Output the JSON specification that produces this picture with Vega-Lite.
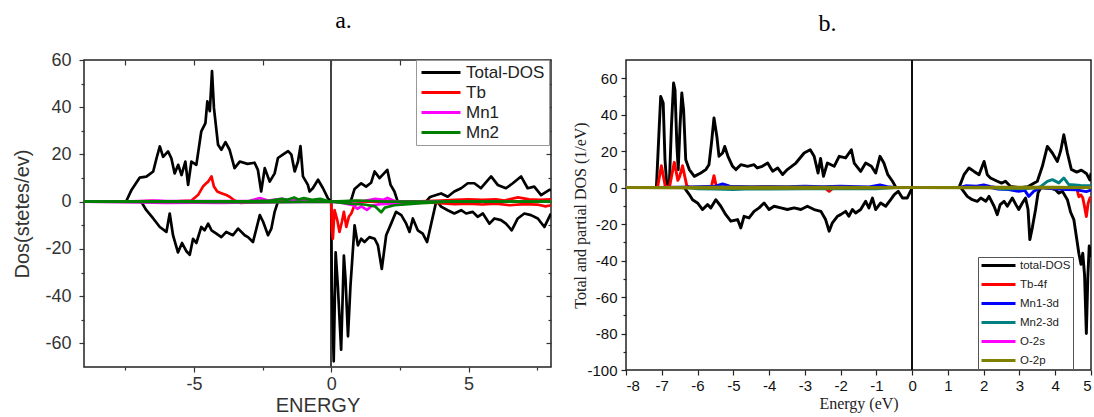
{
"$schema":"https://vega.github.io/schema/vega-lite/v6.json",
"background":"white",
"padding":{"left":12,"top":8,"right":0,"bottom":0},
"spacing":75,
"bounds":"flush",
"resolve":{"scale":{"color":"independent"},"legend":{"color":"independent"}},
"config":{"view":{"stroke":"#222","strokeWidth":1.5},"axis":{"grid":false,"domain":false,"labelOverlap":false}},
"datasets":{
"a":[
{"s":"Total-DOS","p":"u","e":-9,"d":0},{"s":"Total-DOS","p":"u","e":-7.5,"d":0},{"s":"Total-DOS","p":"u","e":-7.45,"d":0.5},{"s":"Total-DOS","p":"u","e":-7.27,"d":5},{"s":"Total-DOS","p":"u","e":-6.97,"d":10.2},{"s":"Total-DOS","p":"u","e":-6.73,"d":10.6},{"s":"Total-DOS","p":"u","e":-6.48,"d":12.8},{"s":"Total-DOS","p":"u","e":-6.36,"d":18.4},{"s":"Total-DOS","p":"u","e":-6.24,"d":23.4},{"s":"Total-DOS","p":"u","e":-6.12,"d":19},{"s":"Total-DOS","p":"u","e":-5.94,"d":21.3},{"s":"Total-DOS","p":"u","e":-5.82,"d":18.4},{"s":"Total-DOS","p":"u","e":-5.7,"d":12},{"s":"Total-DOS","p":"u","e":-5.57,"d":15.6},{"s":"Total-DOS","p":"u","e":-5.45,"d":11.3},{"s":"Total-DOS","p":"u","e":-5.31,"d":17},{"s":"Total-DOS","p":"u","e":-5.21,"d":7.1},{"s":"Total-DOS","p":"u","e":-5.09,"d":17},{"s":"Total-DOS","p":"u","e":-4.91,"d":15.6},{"s":"Total-DOS","p":"u","e":-4.73,"d":29.8},{"s":"Total-DOS","p":"u","e":-4.58,"d":33.3},{"s":"Total-DOS","p":"u","e":-4.51,"d":42.5},{"s":"Total-DOS","p":"u","e":-4.42,"d":38.3},{"s":"Total-DOS","p":"u","e":-4.34,"d":55.3},{"s":"Total-DOS","p":"u","e":-4.27,"d":39.7},{"s":"Total-DOS","p":"u","e":-4.12,"d":24.1},{"s":"Total-DOS","p":"u","e":-4,"d":22},{"s":"Total-DOS","p":"u","e":-3.85,"d":25.2},{"s":"Total-DOS","p":"u","e":-3.7,"d":22},{"s":"Total-DOS","p":"u","e":-3.52,"d":14.2},{"s":"Total-DOS","p":"u","e":-3.33,"d":17},{"s":"Total-DOS","p":"u","e":-3.05,"d":16},{"s":"Total-DOS","p":"u","e":-2.79,"d":16.5},{"s":"Total-DOS","p":"u","e":-2.67,"d":13.5},{"s":"Total-DOS","p":"u","e":-2.55,"d":4.3},{"s":"Total-DOS","p":"u","e":-2.42,"d":14.2},{"s":"Total-DOS","p":"u","e":-2.24,"d":8.5},{"s":"Total-DOS","p":"u","e":-2.06,"d":12},{"s":"Total-DOS","p":"u","e":-1.94,"d":18.5},{"s":"Total-DOS","p":"u","e":-1.75,"d":20},{"s":"Total-DOS","p":"u","e":-1.57,"d":21.4},{"s":"Total-DOS","p":"u","e":-1.45,"d":19.9},{"s":"Total-DOS","p":"u","e":-1.33,"d":12.8},{"s":"Total-DOS","p":"u","e":-1.21,"d":17},{"s":"Total-DOS","p":"u","e":-1.12,"d":23.5},{"s":"Total-DOS","p":"u","e":-1.03,"d":10.7},{"s":"Total-DOS","p":"u","e":-0.85,"d":7.1},{"s":"Total-DOS","p":"u","e":-0.79,"d":4.3},{"s":"Total-DOS","p":"u","e":-0.67,"d":5.7},{"s":"Total-DOS","p":"u","e":-0.48,"d":9.3},{"s":"Total-DOS","p":"u","e":-0.3,"d":5.7},{"s":"Total-DOS","p":"u","e":-0.12,"d":1.4},{"s":"Total-DOS","p":"u","e":0,"d":0},{"s":"Total-DOS","p":"u","e":0.7,"d":0},{"s":"Total-DOS","p":"u","e":0.76,"d":2},{"s":"Total-DOS","p":"u","e":0.85,"d":5.4},{"s":"Total-DOS","p":"u","e":1.09,"d":7.8},{"s":"Total-DOS","p":"u","e":1.27,"d":6.4},{"s":"Total-DOS","p":"u","e":1.45,"d":8},{"s":"Total-DOS","p":"u","e":1.58,"d":12.8},{"s":"Total-DOS","p":"u","e":1.76,"d":10},{"s":"Total-DOS","p":"u","e":2.04,"d":13.5},{"s":"Total-DOS","p":"u","e":2.16,"d":7.1},{"s":"Total-DOS","p":"u","e":2.3,"d":4.3},{"s":"Total-DOS","p":"u","e":2.42,"d":0},{"s":"Total-DOS","p":"u","e":3.45,"d":0},{"s":"Total-DOS","p":"u","e":3.6,"d":2},{"s":"Total-DOS","p":"u","e":3.82,"d":2.8},{"s":"Total-DOS","p":"u","e":4,"d":3.5},{"s":"Total-DOS","p":"u","e":4.24,"d":2.1},{"s":"Total-DOS","p":"u","e":4.48,"d":4.3},{"s":"Total-DOS","p":"u","e":4.73,"d":5.7},{"s":"Total-DOS","p":"u","e":4.97,"d":7.8},{"s":"Total-DOS","p":"u","e":5.21,"d":7.8},{"s":"Total-DOS","p":"u","e":5.45,"d":5.7},{"s":"Total-DOS","p":"u","e":5.82,"d":10.7},{"s":"Total-DOS","p":"u","e":6.06,"d":7.1},{"s":"Total-DOS","p":"u","e":6.36,"d":5.7},{"s":"Total-DOS","p":"u","e":6.61,"d":7.8},{"s":"Total-DOS","p":"u","e":6.91,"d":10.7},{"s":"Total-DOS","p":"u","e":7.15,"d":5.7},{"s":"Total-DOS","p":"u","e":7.39,"d":6.4},{"s":"Total-DOS","p":"u","e":7.64,"d":2.8},{"s":"Total-DOS","p":"u","e":7.94,"d":5},{"s":"Total-DOS","p":"u","e":8,"d":5},
{"s":"Total-DOS","p":"d","e":-9,"d":0},{"s":"Total-DOS","p":"d","e":-6.95,"d":0},{"s":"Total-DOS","p":"d","e":-6.88,"d":-0.7},{"s":"Total-DOS","p":"d","e":-6.73,"d":-3.6},{"s":"Total-DOS","p":"d","e":-6.48,"d":-7.1},{"s":"Total-DOS","p":"d","e":-6.24,"d":-10.7},{"s":"Total-DOS","p":"d","e":-6,"d":-12.8},{"s":"Total-DOS","p":"d","e":-5.88,"d":-5},{"s":"Total-DOS","p":"d","e":-5.76,"d":-14.2},{"s":"Total-DOS","p":"d","e":-5.58,"d":-21.5},{"s":"Total-DOS","p":"d","e":-5.43,"d":-17.5},{"s":"Total-DOS","p":"d","e":-5.27,"d":-21},{"s":"Total-DOS","p":"d","e":-5.15,"d":-22.5},{"s":"Total-DOS","p":"d","e":-5.03,"d":-15.7},{"s":"Total-DOS","p":"d","e":-4.91,"d":-17.5},{"s":"Total-DOS","p":"d","e":-4.73,"d":-10.7},{"s":"Total-DOS","p":"d","e":-4.61,"d":-12.1},{"s":"Total-DOS","p":"d","e":-4.48,"d":-9.3},{"s":"Total-DOS","p":"d","e":-4.36,"d":-12.1},{"s":"Total-DOS","p":"d","e":-4.18,"d":-13.5},{"s":"Total-DOS","p":"d","e":-4,"d":-15},{"s":"Total-DOS","p":"d","e":-3.82,"d":-12.8},{"s":"Total-DOS","p":"d","e":-3.58,"d":-14.2},{"s":"Total-DOS","p":"d","e":-3.39,"d":-11.4},{"s":"Total-DOS","p":"d","e":-3.15,"d":-14.2},{"s":"Total-DOS","p":"d","e":-3.03,"d":-15},{"s":"Total-DOS","p":"d","e":-2.85,"d":-17.1},{"s":"Total-DOS","p":"d","e":-2.6,"d":-5.7},{"s":"Total-DOS","p":"d","e":-2.48,"d":-8.5},{"s":"Total-DOS","p":"d","e":-2.3,"d":-14.2},{"s":"Total-DOS","p":"d","e":-2.18,"d":-11.4},{"s":"Total-DOS","p":"d","e":-2.06,"d":-4.3},{"s":"Total-DOS","p":"d","e":-1.94,"d":0},{"s":"Total-DOS","p":"d","e":0,"d":0},{"s":"Total-DOS","p":"d","e":0.02,"d":-35.6},{"s":"Total-DOS","p":"d","e":0.09,"d":-67.6},{"s":"Total-DOS","p":"d","e":0.16,"d":-21.4},{"s":"Total-DOS","p":"d","e":0.24,"d":-35.6},{"s":"Total-DOS","p":"d","e":0.36,"d":-62.7},{"s":"Total-DOS","p":"d","e":0.46,"d":-22.8},{"s":"Total-DOS","p":"d","e":0.52,"d":-32.8},{"s":"Total-DOS","p":"d","e":0.61,"d":-57},{"s":"Total-DOS","p":"d","e":0.7,"d":-35.6},{"s":"Total-DOS","p":"d","e":0.85,"d":-10},{"s":"Total-DOS","p":"d","e":0.97,"d":-18.5},{"s":"Total-DOS","p":"d","e":1.09,"d":-15.7},{"s":"Total-DOS","p":"d","e":1.21,"d":-17.1},{"s":"Total-DOS","p":"d","e":1.39,"d":-15},{"s":"Total-DOS","p":"d","e":1.58,"d":-15.7},{"s":"Total-DOS","p":"d","e":1.7,"d":-18.5},{"s":"Total-DOS","p":"d","e":1.84,"d":-28.5},{"s":"Total-DOS","p":"d","e":2,"d":-14.2},{"s":"Total-DOS","p":"d","e":2.18,"d":-9.3},{"s":"Total-DOS","p":"d","e":2.36,"d":-4.3},{"s":"Total-DOS","p":"d","e":2.55,"d":-5.7},{"s":"Total-DOS","p":"d","e":2.73,"d":-9.3},{"s":"Total-DOS","p":"d","e":2.85,"d":-12.8},{"s":"Total-DOS","p":"d","e":2.97,"d":-7.1},{"s":"Total-DOS","p":"d","e":3.15,"d":-12.1},{"s":"Total-DOS","p":"d","e":3.33,"d":-13.5},{"s":"Total-DOS","p":"d","e":3.49,"d":-17.1},{"s":"Total-DOS","p":"d","e":3.64,"d":-9.3},{"s":"Total-DOS","p":"d","e":3.82,"d":0},{"s":"Total-DOS","p":"d","e":3.9,"d":-0.5},{"s":"Total-DOS","p":"d","e":4,"d":-2.1},{"s":"Total-DOS","p":"d","e":4.24,"d":-3.6},{"s":"Total-DOS","p":"d","e":4.48,"d":-5},{"s":"Total-DOS","p":"d","e":4.73,"d":-3.6},{"s":"Total-DOS","p":"d","e":4.91,"d":-5},{"s":"Total-DOS","p":"d","e":5.15,"d":-4.3},{"s":"Total-DOS","p":"d","e":5.33,"d":-6.4},{"s":"Total-DOS","p":"d","e":5.52,"d":-5},{"s":"Total-DOS","p":"d","e":5.76,"d":-9.3},{"s":"Total-DOS","p":"d","e":5.94,"d":-7.1},{"s":"Total-DOS","p":"d","e":6.18,"d":-7.8},{"s":"Total-DOS","p":"d","e":6.36,"d":-9.3},{"s":"Total-DOS","p":"d","e":6.57,"d":-12.1},{"s":"Total-DOS","p":"d","e":6.79,"d":-7.1},{"s":"Total-DOS","p":"d","e":7.03,"d":-5},{"s":"Total-DOS","p":"d","e":7.27,"d":-5.7},{"s":"Total-DOS","p":"d","e":7.52,"d":-7.1},{"s":"Total-DOS","p":"d","e":7.76,"d":-10.7},{"s":"Total-DOS","p":"d","e":7.97,"d":-5.7},{"s":"Total-DOS","p":"d","e":8,"d":-5},
{"s":"Tb","p":"u","e":-9,"d":0},{"s":"Tb","p":"u","e":-7.2,"d":0},{"s":"Tb","p":"u","e":-6.5,"d":0.4},{"s":"Tb","p":"u","e":-6,"d":-0.3},{"s":"Tb","p":"u","e":-5.5,"d":0.3},{"s":"Tb","p":"u","e":-5.09,"d":0.5},{"s":"Tb","p":"u","e":-4.85,"d":2.8},{"s":"Tb","p":"u","e":-4.67,"d":6.4},{"s":"Tb","p":"u","e":-4.55,"d":7.8},{"s":"Tb","p":"u","e":-4.48,"d":8.5},{"s":"Tb","p":"u","e":-4.36,"d":10.7},{"s":"Tb","p":"u","e":-4.27,"d":6.4},{"s":"Tb","p":"u","e":-4.15,"d":4.3},{"s":"Tb","p":"u","e":-4,"d":3.6},{"s":"Tb","p":"u","e":-3.82,"d":2.8},{"s":"Tb","p":"u","e":-3.7,"d":2.1},{"s":"Tb","p":"u","e":-3.52,"d":0.5},{"s":"Tb","p":"u","e":-3.3,"d":-0.5},{"s":"Tb","p":"u","e":-3,"d":-0.3},{"s":"Tb","p":"u","e":-2,"d":0},{"s":"Tb","p":"u","e":0,"d":0},{"s":"Tb","p":"u","e":1,"d":0.3},{"s":"Tb","p":"u","e":2,"d":0.2},{"s":"Tb","p":"u","e":3,"d":0},{"s":"Tb","p":"u","e":4,"d":0.5},{"s":"Tb","p":"u","e":4.5,"d":0.8},{"s":"Tb","p":"u","e":5,"d":1},{"s":"Tb","p":"u","e":5.5,"d":0.8},{"s":"Tb","p":"u","e":6,"d":1},{"s":"Tb","p":"u","e":6.3,"d":0.5},{"s":"Tb","p":"u","e":6.8,"d":1.8},{"s":"Tb","p":"u","e":7.2,"d":1},{"s":"Tb","p":"u","e":7.6,"d":0.8},{"s":"Tb","p":"u","e":8,"d":1},
{"s":"Tb","p":"d","e":-9,"d":0},{"s":"Tb","p":"d","e":0,"d":0},{"s":"Tb","p":"d","e":0.02,"d":-11.4},{"s":"Tb","p":"d","e":0.06,"d":-15.7},{"s":"Tb","p":"d","e":0.12,"d":-3.6},{"s":"Tb","p":"d","e":0.22,"d":-7.8},{"s":"Tb","p":"d","e":0.3,"d":-12.8},{"s":"Tb","p":"d","e":0.39,"d":-8.5},{"s":"Tb","p":"d","e":0.46,"d":-4.3},{"s":"Tb","p":"d","e":0.55,"d":-10.7},{"s":"Tb","p":"d","e":0.64,"d":-6.4},{"s":"Tb","p":"d","e":0.73,"d":-5},{"s":"Tb","p":"d","e":0.85,"d":-1.4},{"s":"Tb","p":"d","e":1.09,"d":0},{"s":"Tb","p":"d","e":3,"d":0},{"s":"Tb","p":"d","e":3.8,"d":-0.5},{"s":"Tb","p":"d","e":4.5,"d":-1},{"s":"Tb","p":"d","e":5,"d":-0.8},{"s":"Tb","p":"d","e":5.5,"d":-1.2},{"s":"Tb","p":"d","e":6,"d":-0.8},{"s":"Tb","p":"d","e":6.5,"d":-1.5},{"s":"Tb","p":"d","e":7,"d":-1},{"s":"Tb","p":"d","e":7.5,"d":-1.2},{"s":"Tb","p":"d","e":7.8,"d":-2},{"s":"Tb","p":"d","e":8,"d":-1.5},
{"s":"Mn1","p":"u","e":-9,"d":0},{"s":"Mn1","p":"u","e":-7.5,"d":0},{"s":"Mn1","p":"u","e":-7,"d":0.3},{"s":"Mn1","p":"u","e":-6.3,"d":0.5},{"s":"Mn1","p":"u","e":-6,"d":0.2},{"s":"Mn1","p":"u","e":-5,"d":0.3},{"s":"Mn1","p":"u","e":-4,"d":0.2},{"s":"Mn1","p":"u","e":-3,"d":0.3},{"s":"Mn1","p":"u","e":-2.6,"d":1.5},{"s":"Mn1","p":"u","e":-2.3,"d":0.5},{"s":"Mn1","p":"u","e":-1.8,"d":1.2},{"s":"Mn1","p":"u","e":-1.5,"d":0.6},{"s":"Mn1","p":"u","e":-1,"d":0.8},{"s":"Mn1","p":"u","e":0,"d":0},{"s":"Mn1","p":"u","e":1.2,"d":0.3},{"s":"Mn1","p":"u","e":1.6,"d":1.2},{"s":"Mn1","p":"u","e":1.9,"d":0.8},{"s":"Mn1","p":"u","e":2.05,"d":1.6},{"s":"Mn1","p":"u","e":2.3,"d":0.3},{"s":"Mn1","p":"u","e":3,"d":0},{"s":"Mn1","p":"u","e":8,"d":0},
{"s":"Mn1","p":"d","e":-9,"d":0},{"s":"Mn1","p":"d","e":-7,"d":-0.3},{"s":"Mn1","p":"d","e":-6,"d":-0.5},{"s":"Mn1","p":"d","e":-5,"d":-0.4},{"s":"Mn1","p":"d","e":-4,"d":-0.5},{"s":"Mn1","p":"d","e":-3,"d":-0.3},{"s":"Mn1","p":"d","e":-2,"d":-0.2},{"s":"Mn1","p":"d","e":0,"d":0},{"s":"Mn1","p":"d","e":0.4,"d":-0.5},{"s":"Mn1","p":"d","e":0.8,"d":-1.5},{"s":"Mn1","p":"d","e":0.95,"d":-3},{"s":"Mn1","p":"d","e":1.1,"d":-2},{"s":"Mn1","p":"d","e":1.3,"d":-3.5},{"s":"Mn1","p":"d","e":1.5,"d":-1.5},{"s":"Mn1","p":"d","e":1.8,"d":-1},{"s":"Mn1","p":"d","e":2.2,"d":-0.8},{"s":"Mn1","p":"d","e":3,"d":-0.5},{"s":"Mn1","p":"d","e":3.5,"d":-0.3},{"s":"Mn1","p":"d","e":4,"d":0},{"s":"Mn1","p":"d","e":8,"d":0},
{"s":"Mn2","p":"u","e":-9,"d":0},{"s":"Mn2","p":"u","e":-3,"d":0.2},{"s":"Mn2","p":"u","e":-2.2,"d":0.5},{"s":"Mn2","p":"u","e":-1.8,"d":1.2},{"s":"Mn2","p":"u","e":-1.6,"d":0.8},{"s":"Mn2","p":"u","e":-1.35,"d":1.8},{"s":"Mn2","p":"u","e":-1.2,"d":0.9},{"s":"Mn2","p":"u","e":-1,"d":1.5},{"s":"Mn2","p":"u","e":-0.7,"d":0.8},{"s":"Mn2","p":"u","e":-0.4,"d":1.2},{"s":"Mn2","p":"u","e":-0.15,"d":0.4},{"s":"Mn2","p":"u","e":0,"d":0},{"s":"Mn2","p":"u","e":0.9,"d":0.5},{"s":"Mn2","p":"u","e":1.5,"d":0.3},{"s":"Mn2","p":"u","e":2,"d":0},{"s":"Mn2","p":"u","e":8,"d":0},
{"s":"Mn2","p":"d","e":-9,"d":0},{"s":"Mn2","p":"d","e":-2,"d":-0.2},{"s":"Mn2","p":"d","e":0,"d":0},{"s":"Mn2","p":"d","e":0.7,"d":-0.8},{"s":"Mn2","p":"d","e":1.2,"d":-1.2},{"s":"Mn2","p":"d","e":1.6,"d":-2},{"s":"Mn2","p":"d","e":1.82,"d":-4.5},{"s":"Mn2","p":"d","e":1.95,"d":-2.5},{"s":"Mn2","p":"d","e":2.3,"d":-1.5},{"s":"Mn2","p":"d","e":2.8,"d":-1},{"s":"Mn2","p":"d","e":3.3,"d":-0.6},{"s":"Mn2","p":"d","e":3.8,"d":-0.3},{"s":"Mn2","p":"d","e":4.2,"d":0},{"s":"Mn2","p":"d","e":8,"d":0}
],
"b":[
{"s":"total-DOS","p":"u","e":-8,"d":0},{"s":"total-DOS","p":"u","e":-7.15,"d":0},{"s":"total-DOS","p":"u","e":-7.07,"d":33.6},{"s":"total-DOS","p":"u","e":-7.03,"d":50},{"s":"total-DOS","p":"u","e":-6.96,"d":46.4},{"s":"total-DOS","p":"u","e":-6.91,"d":15.3},{"s":"total-DOS","p":"u","e":-6.86,"d":1.6},{"s":"total-DOS","p":"u","e":-6.79,"d":0.7},{"s":"total-DOS","p":"u","e":-6.73,"d":33.6},{"s":"total-DOS","p":"u","e":-6.67,"d":57.4},{"s":"total-DOS","p":"u","e":-6.63,"d":53.7},{"s":"total-DOS","p":"u","e":-6.58,"d":24.5},{"s":"total-DOS","p":"u","e":-6.54,"d":9.9},{"s":"total-DOS","p":"u","e":-6.49,"d":33.6},{"s":"total-DOS","p":"u","e":-6.44,"d":51.9},{"s":"total-DOS","p":"u","e":-6.39,"d":42.7},{"s":"total-DOS","p":"u","e":-6.33,"d":15.3},{"s":"total-DOS","p":"u","e":-6.23,"d":9.9},{"s":"total-DOS","p":"u","e":-6.09,"d":6.2},{"s":"total-DOS","p":"u","e":-5.91,"d":8},{"s":"total-DOS","p":"u","e":-5.77,"d":9.9},{"s":"total-DOS","p":"u","e":-5.68,"d":12.6},{"s":"total-DOS","p":"u","e":-5.61,"d":24.5},{"s":"total-DOS","p":"u","e":-5.54,"d":38.2},{"s":"total-DOS","p":"u","e":-5.46,"d":28.1},{"s":"total-DOS","p":"u","e":-5.4,"d":17.2},{"s":"total-DOS","p":"u","e":-5.3,"d":19},{"s":"total-DOS","p":"u","e":-5.24,"d":22.6},{"s":"total-DOS","p":"u","e":-5.15,"d":17.2},{"s":"total-DOS","p":"u","e":-5.02,"d":11.7},{"s":"total-DOS","p":"u","e":-4.93,"d":9.9},{"s":"total-DOS","p":"u","e":-4.79,"d":12.6},{"s":"total-DOS","p":"u","e":-4.6,"d":11.7},{"s":"total-DOS","p":"u","e":-4.42,"d":12.6},{"s":"total-DOS","p":"u","e":-4.33,"d":10.8},{"s":"total-DOS","p":"u","e":-4.19,"d":11.7},{"s":"total-DOS","p":"u","e":-4.04,"d":13.5},{"s":"total-DOS","p":"u","e":-3.9,"d":9},{"s":"total-DOS","p":"u","e":-3.76,"d":10.8},{"s":"total-DOS","p":"u","e":-3.62,"d":7.2},{"s":"total-DOS","p":"u","e":-3.49,"d":9.9},{"s":"total-DOS","p":"u","e":-3.25,"d":13.5},{"s":"total-DOS","p":"u","e":-3.02,"d":19},{"s":"total-DOS","p":"u","e":-2.85,"d":20.8},{"s":"total-DOS","p":"u","e":-2.74,"d":17.2},{"s":"total-DOS","p":"u","e":-2.63,"d":8},{"s":"total-DOS","p":"u","e":-2.56,"d":16},{"s":"total-DOS","p":"u","e":-2.48,"d":6.2},{"s":"total-DOS","p":"u","e":-2.37,"d":13.5},{"s":"total-DOS","p":"u","e":-2.18,"d":11.7},{"s":"total-DOS","p":"u","e":-2.04,"d":17.2},{"s":"total-DOS","p":"u","e":-1.86,"d":16.3},{"s":"total-DOS","p":"u","e":-1.7,"d":20.8},{"s":"total-DOS","p":"u","e":-1.62,"d":13.5},{"s":"total-DOS","p":"u","e":-1.44,"d":8.9},{"s":"total-DOS","p":"u","e":-1.3,"d":13.5},{"s":"total-DOS","p":"u","e":-1.14,"d":11.7},{"s":"total-DOS","p":"u","e":-1.02,"d":8},{"s":"total-DOS","p":"u","e":-0.9,"d":17.2},{"s":"total-DOS","p":"u","e":-0.79,"d":13.5},{"s":"total-DOS","p":"u","e":-0.68,"d":7.1},{"s":"total-DOS","p":"u","e":-0.55,"d":3.5},{"s":"total-DOS","p":"u","e":-0.45,"d":0},{"s":"total-DOS","p":"u","e":1.31,"d":0},{"s":"total-DOS","p":"u","e":1.45,"d":7.1},{"s":"total-DOS","p":"u","e":1.59,"d":10.8},{"s":"total-DOS","p":"u","e":1.73,"d":8.9},{"s":"total-DOS","p":"u","e":1.87,"d":7.1},{"s":"total-DOS","p":"u","e":2.01,"d":14.4},{"s":"total-DOS","p":"u","e":2.1,"d":7.1},{"s":"total-DOS","p":"u","e":2.19,"d":5.3},{"s":"total-DOS","p":"u","e":2.38,"d":3.5},{"s":"total-DOS","p":"u","e":2.5,"d":2.5},{"s":"total-DOS","p":"u","e":2.61,"d":3.5},{"s":"total-DOS","p":"u","e":2.75,"d":0.6},{"s":"total-DOS","p":"u","e":3.03,"d":0},{"s":"total-DOS","p":"u","e":3.23,"d":0.5},{"s":"total-DOS","p":"u","e":3.5,"d":3.5},{"s":"total-DOS","p":"u","e":3.64,"d":11.7},{"s":"total-DOS","p":"u","e":3.78,"d":22.6},{"s":"total-DOS","p":"u","e":3.92,"d":19},{"s":"total-DOS","p":"u","e":4.06,"d":14.4},{"s":"total-DOS","p":"u","e":4.15,"d":20},{"s":"total-DOS","p":"u","e":4.24,"d":29},{"s":"total-DOS","p":"u","e":4.34,"d":19},{"s":"total-DOS","p":"u","e":4.45,"d":10},{"s":"total-DOS","p":"u","e":4.6,"d":8.5},{"s":"total-DOS","p":"u","e":4.73,"d":9.6},{"s":"total-DOS","p":"u","e":4.87,"d":7.8},{"s":"total-DOS","p":"u","e":4.97,"d":4.2},{"s":"total-DOS","p":"u","e":5,"d":8},
{"s":"total-DOS","p":"d","e":-8,"d":0},{"s":"total-DOS","p":"d","e":-6.37,"d":0},{"s":"total-DOS","p":"d","e":-6.23,"d":-3.8},{"s":"total-DOS","p":"d","e":-6.14,"d":-6.6},{"s":"total-DOS","p":"d","e":-6,"d":-8.4},{"s":"total-DOS","p":"d","e":-5.86,"d":-12},{"s":"total-DOS","p":"d","e":-5.72,"d":-9.3},{"s":"total-DOS","p":"d","e":-5.63,"d":-11.1},{"s":"total-DOS","p":"d","e":-5.49,"d":-6.6},{"s":"total-DOS","p":"d","e":-5.35,"d":-10.2},{"s":"total-DOS","p":"d","e":-5.21,"d":-14.8},{"s":"total-DOS","p":"d","e":-5.07,"d":-18.4},{"s":"total-DOS","p":"d","e":-4.88,"d":-17.5},{"s":"total-DOS","p":"d","e":-4.79,"d":-22.1},{"s":"total-DOS","p":"d","e":-4.7,"d":-15.7},{"s":"total-DOS","p":"d","e":-4.56,"d":-16.6},{"s":"total-DOS","p":"d","e":-4.42,"d":-13},{"s":"total-DOS","p":"d","e":-4.28,"d":-11.1},{"s":"total-DOS","p":"d","e":-4.14,"d":-8.4},{"s":"total-DOS","p":"d","e":-4,"d":-12},{"s":"total-DOS","p":"d","e":-3.86,"d":-10.2},{"s":"total-DOS","p":"d","e":-3.67,"d":-11.1},{"s":"total-DOS","p":"d","e":-3.49,"d":-12},{"s":"total-DOS","p":"d","e":-3.3,"d":-11.1},{"s":"total-DOS","p":"d","e":-3.11,"d":-12},{"s":"total-DOS","p":"d","e":-2.93,"d":-10.2},{"s":"total-DOS","p":"d","e":-2.74,"d":-12},{"s":"total-DOS","p":"d","e":-2.55,"d":-13},{"s":"total-DOS","p":"d","e":-2.42,"d":-17.5},{"s":"total-DOS","p":"d","e":-2.32,"d":-23.9},{"s":"total-DOS","p":"d","e":-2.23,"d":-19.3},{"s":"total-DOS","p":"d","e":-2.09,"d":-15.7},{"s":"total-DOS","p":"d","e":-2,"d":-14.8},{"s":"total-DOS","p":"d","e":-1.86,"d":-13},{"s":"total-DOS","p":"d","e":-1.77,"d":-15.7},{"s":"total-DOS","p":"d","e":-1.67,"d":-12},{"s":"total-DOS","p":"d","e":-1.58,"d":-13.9},{"s":"total-DOS","p":"d","e":-1.44,"d":-12},{"s":"total-DOS","p":"d","e":-1.3,"d":-7.5},{"s":"total-DOS","p":"d","e":-1.21,"d":-11.1},{"s":"total-DOS","p":"d","e":-1.11,"d":-5.7},{"s":"total-DOS","p":"d","e":-1.02,"d":-12},{"s":"total-DOS","p":"d","e":-0.88,"d":-8.4},{"s":"total-DOS","p":"d","e":-0.74,"d":-10.2},{"s":"total-DOS","p":"d","e":-0.6,"d":-6.6},{"s":"total-DOS","p":"d","e":-0.5,"d":-3.8},{"s":"total-DOS","p":"d","e":-0.39,"d":-2},{"s":"total-DOS","p":"d","e":-0.27,"d":-5.7},{"s":"total-DOS","p":"d","e":-0.14,"d":-5.7},{"s":"total-DOS","p":"d","e":-0.02,"d":-1},{"s":"total-DOS","p":"d","e":0,"d":0},{"s":"total-DOS","p":"d","e":1.36,"d":0},{"s":"total-DOS","p":"d","e":1.54,"d":-4.8},{"s":"total-DOS","p":"d","e":1.68,"d":-6.6},{"s":"total-DOS","p":"d","e":1.82,"d":-7.5},{"s":"total-DOS","p":"d","e":1.92,"d":-5.7},{"s":"total-DOS","p":"d","e":2.06,"d":-7.5},{"s":"total-DOS","p":"d","e":2.15,"d":-4.8},{"s":"total-DOS","p":"d","e":2.29,"d":-10.2},{"s":"total-DOS","p":"d","e":2.38,"d":-14.8},{"s":"total-DOS","p":"d","e":2.46,"d":-9.3},{"s":"total-DOS","p":"d","e":2.57,"d":-7.5},{"s":"total-DOS","p":"d","e":2.66,"d":-10.2},{"s":"total-DOS","p":"d","e":2.8,"d":-5.7},{"s":"total-DOS","p":"d","e":2.9,"d":-9.3},{"s":"total-DOS","p":"d","e":2.98,"d":-12},{"s":"total-DOS","p":"d","e":3.08,"d":-8.4},{"s":"total-DOS","p":"d","e":3.17,"d":-5.7},{"s":"total-DOS","p":"d","e":3.24,"d":-12},{"s":"total-DOS","p":"d","e":3.29,"d":-28.5},{"s":"total-DOS","p":"d","e":3.36,"d":-21.9},{"s":"total-DOS","p":"d","e":3.45,"d":-12},{"s":"total-DOS","p":"d","e":3.52,"d":-2.9},{"s":"total-DOS","p":"d","e":3.6,"d":0},{"s":"total-DOS","p":"d","e":3.85,"d":-0.3},{"s":"total-DOS","p":"d","e":4,"d":-1},{"s":"total-DOS","p":"d","e":4.1,"d":-3},{"s":"total-DOS","p":"d","e":4.2,"d":-2},{"s":"total-DOS","p":"d","e":4.34,"d":-6.6},{"s":"total-DOS","p":"d","e":4.43,"d":-13.5},{"s":"total-DOS","p":"d","e":4.52,"d":-17.5},{"s":"total-DOS","p":"d","e":4.6,"d":-28},{"s":"total-DOS","p":"d","e":4.66,"d":-36},{"s":"total-DOS","p":"d","e":4.72,"d":-42},{"s":"total-DOS","p":"d","e":4.77,"d":-36},{"s":"total-DOS","p":"d","e":4.82,"d":-48},{"s":"total-DOS","p":"d","e":4.87,"d":-80},{"s":"total-DOS","p":"d","e":4.91,"d":-50},{"s":"total-DOS","p":"d","e":4.95,"d":-32},{"s":"total-DOS","p":"d","e":5,"d":-38},
{"s":"Tb-4f","p":"u","e":-8,"d":0},{"s":"Tb-4f","p":"u","e":-7.12,"d":0},{"s":"Tb-4f","p":"u","e":-7.01,"d":12},{"s":"Tb-4f","p":"u","e":-6.9,"d":0.5},{"s":"Tb-4f","p":"u","e":-6.78,"d":0.8},{"s":"Tb-4f","p":"u","e":-6.65,"d":13.9},{"s":"Tb-4f","p":"u","e":-6.55,"d":4},{"s":"Tb-4f","p":"u","e":-6.5,"d":6},{"s":"Tb-4f","p":"u","e":-6.42,"d":12},{"s":"Tb-4f","p":"u","e":-6.3,"d":1},{"s":"Tb-4f","p":"u","e":-6.2,"d":0},{"s":"Tb-4f","p":"u","e":-5.62,"d":0},{"s":"Tb-4f","p":"u","e":-5.54,"d":6.6},{"s":"Tb-4f","p":"u","e":-5.47,"d":0},{"s":"Tb-4f","p":"u","e":5,"d":0},
{"s":"Tb-4f","p":"d","e":-8,"d":0},{"s":"Tb-4f","p":"d","e":-2.45,"d":0},{"s":"Tb-4f","p":"d","e":-2.32,"d":-2},{"s":"Tb-4f","p":"d","e":-2.2,"d":0},{"s":"Tb-4f","p":"d","e":4.5,"d":0},{"s":"Tb-4f","p":"d","e":4.61,"d":-1},{"s":"Tb-4f","p":"d","e":4.66,"d":-5},{"s":"Tb-4f","p":"d","e":4.72,"d":-4},{"s":"Tb-4f","p":"d","e":4.77,"d":-5.5},{"s":"Tb-4f","p":"d","e":4.82,"d":-10.4},{"s":"Tb-4f","p":"d","e":4.87,"d":-15.8},{"s":"Tb-4f","p":"d","e":4.92,"d":-8.5},{"s":"Tb-4f","p":"d","e":4.97,"d":-5.8},{"s":"Tb-4f","p":"d","e":5,"d":-5},
{"s":"Mn1-3d","p":"u","e":-8,"d":0},{"s":"Mn1-3d","p":"u","e":-6.5,"d":0.3},{"s":"Mn1-3d","p":"u","e":-6,"d":0.5},{"s":"Mn1-3d","p":"u","e":-5.5,"d":0.8},{"s":"Mn1-3d","p":"u","e":-5.3,"d":2},{"s":"Mn1-3d","p":"u","e":-5.1,"d":0.8},{"s":"Mn1-3d","p":"u","e":-4.5,"d":0.5},{"s":"Mn1-3d","p":"u","e":-4,"d":0.7},{"s":"Mn1-3d","p":"u","e":-3.5,"d":0.5},{"s":"Mn1-3d","p":"u","e":-3,"d":0.8},{"s":"Mn1-3d","p":"u","e":-2.5,"d":0.5},{"s":"Mn1-3d","p":"u","e":-2,"d":0.8},{"s":"Mn1-3d","p":"u","e":-1.5,"d":0.5},{"s":"Mn1-3d","p":"u","e":-1.2,"d":0.4},{"s":"Mn1-3d","p":"u","e":-0.9,"d":1.5},{"s":"Mn1-3d","p":"u","e":-0.7,"d":0.5},{"s":"Mn1-3d","p":"u","e":-0.4,"d":0},{"s":"Mn1-3d","p":"u","e":1.3,"d":0},{"s":"Mn1-3d","p":"u","e":1.5,"d":1},{"s":"Mn1-3d","p":"u","e":1.8,"d":0.8},{"s":"Mn1-3d","p":"u","e":2,"d":1.5},{"s":"Mn1-3d","p":"u","e":2.2,"d":0.5},{"s":"Mn1-3d","p":"u","e":2.4,"d":0},{"s":"Mn1-3d","p":"u","e":5,"d":0},
{"s":"Mn1-3d","p":"d","e":-8,"d":0},{"s":"Mn1-3d","p":"d","e":2.2,"d":0},{"s":"Mn1-3d","p":"d","e":2.4,"d":-0.8},{"s":"Mn1-3d","p":"d","e":2.7,"d":-1},{"s":"Mn1-3d","p":"d","e":2.98,"d":-2},{"s":"Mn1-3d","p":"d","e":3.15,"d":-1.5},{"s":"Mn1-3d","p":"d","e":3.26,"d":-4.8},{"s":"Mn1-3d","p":"d","e":3.4,"d":-2},{"s":"Mn1-3d","p":"d","e":3.6,"d":0},{"s":"Mn1-3d","p":"d","e":3.9,"d":-0.5},{"s":"Mn1-3d","p":"d","e":4.3,"d":-1},{"s":"Mn1-3d","p":"d","e":4.6,"d":-1.2},{"s":"Mn1-3d","p":"d","e":4.87,"d":-2.2},{"s":"Mn1-3d","p":"d","e":5,"d":-1.3},
{"s":"Mn2-3d","p":"u","e":-8,"d":0},{"s":"Mn2-3d","p":"u","e":3.5,"d":0},{"s":"Mn2-3d","p":"u","e":3.59,"d":0.5},{"s":"Mn2-3d","p":"u","e":3.78,"d":3.5},{"s":"Mn2-3d","p":"u","e":3.92,"d":4.4},{"s":"Mn2-3d","p":"u","e":4.1,"d":2.6},{"s":"Mn2-3d","p":"u","e":4.24,"d":5.3},{"s":"Mn2-3d","p":"u","e":4.38,"d":1.7},{"s":"Mn2-3d","p":"u","e":4.71,"d":1.2},{"s":"Mn2-3d","p":"u","e":5,"d":1},
{"s":"Mn2-3d","p":"d","e":-8,"d":0},{"s":"Mn2-3d","p":"d","e":-6.3,"d":0},{"s":"Mn2-3d","p":"d","e":-6,"d":-0.6},{"s":"Mn2-3d","p":"d","e":-5.5,"d":-0.8},{"s":"Mn2-3d","p":"d","e":-5,"d":-1},{"s":"Mn2-3d","p":"d","e":-4.5,"d":-0.7},{"s":"Mn2-3d","p":"d","e":-4,"d":-0.8},{"s":"Mn2-3d","p":"d","e":-3,"d":-0.6},{"s":"Mn2-3d","p":"d","e":-2,"d":-0.7},{"s":"Mn2-3d","p":"d","e":-1,"d":-0.6},{"s":"Mn2-3d","p":"d","e":-0.5,"d":0},{"s":"Mn2-3d","p":"d","e":2.3,"d":0},{"s":"Mn2-3d","p":"d","e":2.5,"d":-0.8},{"s":"Mn2-3d","p":"d","e":2.8,"d":-0.6},{"s":"Mn2-3d","p":"d","e":3.2,"d":-0.5},{"s":"Mn2-3d","p":"d","e":3.5,"d":0},{"s":"Mn2-3d","p":"d","e":5,"d":0},
{"s":"O-2s","p":"u","e":-8,"d":0},{"s":"O-2s","p":"u","e":5,"d":0},
{"s":"O-2p","p":"u","e":-8,"d":0},{"s":"O-2p","p":"u","e":-6,"d":0.3},{"s":"O-2p","p":"u","e":-4,"d":0.4},{"s":"O-2p","p":"u","e":-2,"d":0.3},{"s":"O-2p","p":"u","e":0,"d":0},{"s":"O-2p","p":"u","e":2,"d":0.2},{"s":"O-2p","p":"u","e":4,"d":0.3},{"s":"O-2p","p":"u","e":5,"d":0},
{"s":"O-2p","p":"d","e":-8,"d":0},{"s":"O-2p","p":"d","e":-5,"d":-0.3},{"s":"O-2p","p":"d","e":-3,"d":-0.3},{"s":"O-2p","p":"d","e":-1,"d":-0.2},{"s":"O-2p","p":"d","e":0,"d":0},{"s":"O-2p","p":"d","e":3,"d":-0.2},{"s":"O-2p","p":"d","e":5,"d":0}
]
},
"hconcat":[
{
"width":467,"height":307,
"title":{"text":"a.","font":"Liberation Serif","fontSize":24,"fontWeight":"normal","color":"#000","anchor":"middle","dx":26,"offset":-1,"baseline":"alphabetic"},
"data":{"name":"a"},
"layer":[
{"mark":{"type":"rule","color":"#444","strokeWidth":1.3},
"encoding":{"x":{"datum":0,"type":"quantitative","scale":{"domain":[-9,8],"nice":false,"zero":false},
"axis":{"orient":"top","values":[-7.5,-5,-2.5,0,2.5,5,7.5],"labels":false,"title":null,"tickSize":-5,"tickColor":"#333","tickWidth":1.2}}}},
{"mark":{"type":"rule","opacity":0},
"encoding":{"y":{"datum":0,"type":"quantitative","scale":{"domain":[-70,60],"nice":false,"zero":false},
"axis":{"orient":"right","values":[-60,-50,-40,-30,-20,-10,0,10,20,30,40,50,60],"labels":false,"title":null,"tickSize":{"condition":{"test":"datum.value % 20 == 0","value":-5},"value":-3},"tickColor":"#333","tickWidth":1.2}}}},
{"mark":{"type":"line","strokeWidth":2.7,"strokeJoin":"round","clip":true},
"encoding":{
"x":{"field":"e","type":"quantitative","scale":{"domain":[-9,8],"nice":false,"zero":false},
"axis":{"orient":"bottom","values":[-7.5,-5,-2.5,0,2.5,5,7.5],"labelExpr":"datum.value % 5 == 0 ? '' + datum.value : ''","tickSize":{"condition":{"test":"datum.value % 5 == 0","value":5},"value":3},"tickColor":"#333","tickWidth":1.2,"labelFont":"Liberation Sans","labelFontSize":18,"labelColor":"#333","labelPadding":3,"title":"ENERGY","titleFont":"Liberation Sans","titleFontSize":20,"titleFontWeight":"normal","titleColor":"#333","titlePadding":2}},
"y":{"field":"d","type":"quantitative","scale":{"domain":[-70,60],"nice":false,"zero":false},
"axis":{"orient":"left","values":[-60,-50,-40,-30,-20,-10,0,10,20,30,40,50,60],"labelExpr":"datum.value % 20 == 0 ? '' + datum.value : ''","tickSize":{"condition":{"test":"datum.value % 20 == 0","value":5},"value":3},"tickColor":"#333","tickWidth":1.2,"labelFont":"Liberation Sans","labelFontSize":18,"labelColor":"#333","labelPadding":8,"title":"Dos(stetes/ev)","titleFont":"Liberation Sans","titleFontSize":20,"titleFontWeight":"normal","titleColor":"#333","titlePadding":12}},
"color":{"field":"s","type":"nominal","scale":{"domain":["Total-DOS","Tb","Mn1","Mn2"],"range":["#000000","#ff0000","#ff00ff","#008000"]},
"legend":{"orient":"none","legendX":332,"legendY":0,"title":null,"symbolType":"stroke","symbolSize":1521,"symbolStrokeWidth":3,"clipHeight":17,"rowPadding":2,"labelFont":"Liberation Sans","labelFontSize":17,"labelColor":"#222","labelOffset":4,"padding":4,"strokeColor":"#999","fillColor":"white"}},
"detail":{"field":"p"}
}}
],
"resolve":{"scale":{"x":"independent","y":"independent"}}
},
{
"width":465,"height":310,
"title":{"text":"b.","font":"Liberation Serif","fontSize":24,"fontWeight":"normal","color":"#000","anchor":"middle","dx":-31,"offset":4,"baseline":"alphabetic"},
"data":{"name":"b"},
"layer":[
{"mark":{"type":"rule","color":"#111","strokeWidth":1.5},
"encoding":{"x":{"datum":0,"type":"quantitative","scale":{"domain":[-8,5],"nice":false,"zero":false},
"axis":{"orient":"bottom","values":[-8,-7,-6,-5,-4,-3,-2,-1,0,1,2,3,4,5],"labelExpr":"'' + datum.value","labelOverlap":false,"labelBound":false,"tickSize":5,"tickColor":"#222","tickWidth":1.2,"labelFont":"Liberation Sans","labelFontSize":15,"labelColor":"#111","labelPadding":3,"title":"Energy (eV)","titleFont":"Liberation Serif","titleFontSize":16,"titleFontWeight":"normal","titleColor":"#222","titlePadding":2}}}},
{"mark":{"type":"line","strokeWidth":2.9,"strokeJoin":"round","clip":true},
"encoding":{
"x":{"field":"e","type":"quantitative","scale":{"domain":[-8,5],"nice":false,"zero":false},
"axis":{"orient":"bottom","values":[-8,-7,-6,-5,-4,-3,-2,-1,0,1,2,3,4,5],"labelExpr":"'' + datum.value","labelOverlap":false,"labelBound":false,"tickSize":5,"tickColor":"#222","tickWidth":1.2,"labelFont":"Liberation Sans","labelFontSize":15,"labelColor":"#111","labelPadding":3,"title":"Energy (eV)","titleFont":"Liberation Serif","titleFontSize":16,"titleFontWeight":"normal","titleColor":"#222","titlePadding":2}},
"y":{"field":"d","type":"quantitative","scale":{"domain":[-100,70],"nice":false,"zero":false},
"axis":{"orient":"left","values":[-100,-90,-80,-70,-60,-50,-40,-30,-20,-10,0,10,20,30,40,50,60],"labelExpr":"datum.value % 20 == 0 ? '' + datum.value : ''","tickSize":{"condition":{"test":"datum.value % 20 == 0","value":5},"value":3},"tickColor":"#222","tickWidth":1.2,"labelFont":"Liberation Sans","labelFontSize":15,"labelColor":"#111","labelPadding":4,"title":"Total and partial DOS (1/eV)","titleFont":"Liberation Serif","titleFontSize":16,"titleFontWeight":"normal","titleColor":"#222","titlePadding":-2}},
"color":{"field":"s","type":"nominal","scale":{"domain":["total-DOS","Tb-4f","Mn1-3d","Mn2-3d","O-2s","O-2p"],"range":["#000000","#ff0000","#0000ff","#008080","#ff00ff","#808000"]},
"legend":{"orient":"none","legendX":352,"legendY":197,"title":null,"symbolType":"stroke","symbolSize":1156,"symbolStrokeWidth":3,"clipHeight":13,"rowPadding":6,"labelFont":"Liberation Sans","labelFontSize":11.5,"labelColor":"#222","labelOffset":3,"padding":2,"strokeColor":"#555","fillColor":"white"}},
"detail":{"field":"p"}
}}
]
}
]
}
